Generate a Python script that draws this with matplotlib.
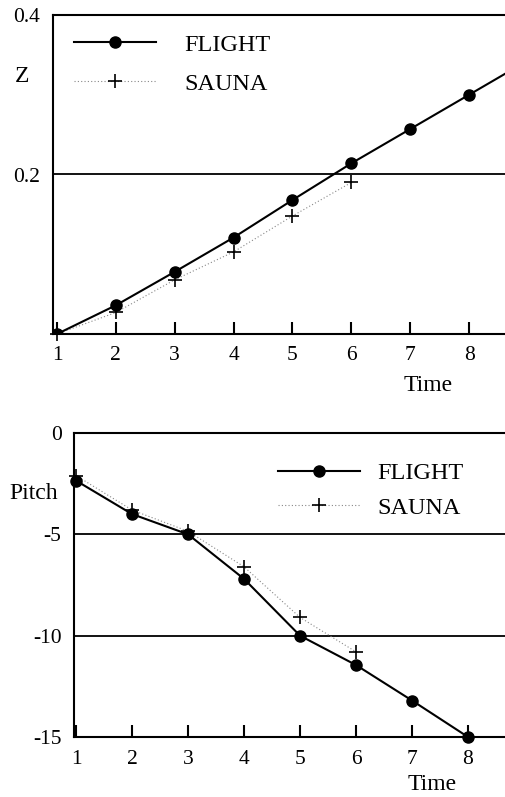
import numpy as np
import matplotlib.pyplot as plt
from matplotlib.lines import Line2D

plt.rcParams['font.family'] = ['Liberation Serif', 'DejaVu Serif']

# Dane
czas = [1, 2, 3, 4, 5, 6, 7, 8, 9]
z_flight = [0.0, 0.036, 0.078, 0.121, 0.168, 0.214, 0.257, 0.300, 0.343]
czas_sauna = [1, 2, 3, 4, 5, 6]
z_sauna = [0.0, 0.027, 0.068, 0.103, 0.148, 0.190]

czas_p = [1, 2, 3, 4, 5, 6, 7, 8]
pitch_flight = [-2.35, -4.0, -5.0, -7.2, -10.0, -11.45, -13.2, -15.0]
pitch_sauna = [-2.1, -3.8, -4.85, -6.6, -9.1, -10.8]

x_ticks = [1, 2, 3, 4, 5, 6, 7, 8]

fig = plt.figure(figsize=(5.05, 7.97), dpi=100)
ax1 = fig.add_axes([53/505, 1-334/797, 1-53/505, 319/797])
ax2 = fig.add_axes([74/505, 1-737/797, 1-74/505, 304/797])


def styl(ax, ylim, yticks, ylabels, xlim):
    ax.set_xlim(*xlim)
    ax.set_ylim(*ylim)
    ax.spines['right'].set_visible(False)
    for s in ['left', 'bottom', 'top']:
        ax.spines[s].set_linewidth(1.5)
    ax.set_xticks(x_ticks)
    ax.set_xticklabels([str(t) for t in x_ticks])
    ax.set_yticks(yticks)
    ax.set_yticklabels(ylabels)
    ax.tick_params(axis='x', direction='in', length=9, width=1.5, pad=9,
                   labelsize=15.5)
    ax.tick_params(axis='y', length=0, pad=9, labelsize=15.5)
    ax.patch.set_visible(False)


# Wykres Z
ax1.axhline(0.2, color='black', lw=1.3, zorder=1)
ax1.plot(czas_sauna, z_sauna, color='#888888', ls=(0, (1, 2)), lw=0.8,
         marker='+', ms=10, mew=1.2, mec='black', clip_on=False)
ax1.plot(czas, z_flight, color='black', lw=1.5, marker='o', ms=8,
         clip_on=True)
styl(ax1, (0, 0.4), [0.2, 0.4], ['0.2', '0.4'], (0.932, 8.61))

# Wykres Pitch
for yy in [-5, -10]:
    ax2.axhline(yy, color='black', lw=1.3, zorder=1)
ax2.plot(czas_p[:6], pitch_sauna, color='#888888', ls=(0, (1, 2)), lw=0.8)
ax2.plot(czas_p[:6], pitch_sauna, ls='none', marker='+', ms=10, mew=1.2,
         color='black', clip_on=False)
ax2.plot(czas_p, pitch_flight, color='black', lw=1.5, marker='o', ms=8,
         clip_on=False)
styl(ax2, (-15, 0), [-15, -10, -5, 0], ['-15', '-10', '-5', '0'],
     (0.964, 8.66))

# Legendy
h_f = Line2D([], [], color='black', lw=1.5, marker='o', ms=8)
h_s = Line2D([], [], color='#888888', ls=(0, (1, 2)), lw=0.8,
             marker='+', ms=10, mew=1.2, mec='black')
for ax, anchor, sp, tp in [(ax1, (0.024, 0.972), 0.7, 1.15),
                           (ax2, (0.45, 0.935), 0.5, 0.7)]:
    ax.legend([h_f, h_s], ['FLIGHT', 'SAUNA'], loc='upper left',
              bbox_to_anchor=anchor, frameon=False, fontsize=17.5,
              handlelength=3.4, handletextpad=tp, labelspacing=sp,
              borderaxespad=0)

fig.text(22/505, 1-77/797, 'Z', fontsize=17, ha='center', va='center')
fig.text(428/505, 1-385/797, 'Time', fontsize=17, ha='center', va='center')
fig.text(34/505, 1-493/797, 'Pitch', fontsize=17, ha='center', va='center')
fig.text(432/505, 1-785/797, 'Time', fontsize=17, ha='center', va='center')

fig.savefig('out.png', dpi=100)
